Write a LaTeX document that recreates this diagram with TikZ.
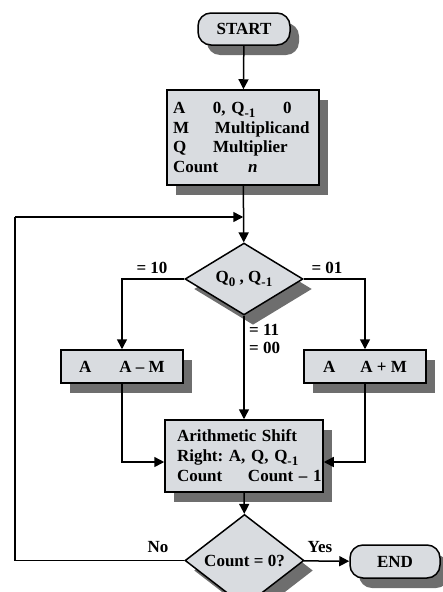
\documentclass[tikz,border=0pt]{standalone}
\usepackage{fontspec}
\setmainfont{Liberation Serif}
\frenchspacing
\usetikzlibrary{arrows.meta,shapes.geometric,shadows}
\definecolor{boxfill}{HTML}{D9DCE0}
\definecolor{shadowgray}{HTML}{6E6E6E}
\newcommand\lowsub[1]{\raisebox{-4pt}{\fontsize{13}{13}\selectfont #1}}
\tikzset{
  x=1pt, y=-1pt,
  base/.style={font=\fontsize{17}{19.5}\selectfont\bfseries, line width=1.5pt, draw=black, fill=boxfill,
    drop shadow={shadow xshift=9pt, shadow yshift=-10pt, fill=shadowgray, opacity=1}},
  terminal/.style={base, rectangle, rounded corners=13pt, minimum width=92pt, minimum height=32pt, inner sep=0pt},
  procbox/.style={base, rectangle, inner sep=0pt},
  decision/.style={base, diamond, inner sep=0pt, minimum width=118pt, minimum height=51pt},
  lbl/.style={font=\fontsize{17}{19.5}\selectfont\bfseries, inner sep=0pt},
  conn/.style={line width=1.5pt, -{Triangle[length=10pt,width=10pt]}},
  plain/.style={line width=1.5pt}
}
\begin{document}
\begin{tikzpicture}
\useasboundingbox (0,0) rectangle (442,592);
\node[terminal] (start) at (244,29) {START};
\node[procbox, minimum width=152pt, minimum height=95pt, text width=140pt, inner xsep=6pt, align=left] (init) at (243,137.5)
  {\makebox[140pt][l]{\makebox[40pt][l]{A}\makebox[70pt][l]{0, Q\lowsub{-1}}0}\\
   \makebox[140pt][l]{\makebox[42pt][l]{M}Multiplicand}\\
   \makebox[140pt][l]{\makebox[40pt][l]{Q}Multiplier}\\
   \makebox[140pt][l]{\makebox[75pt][l]{Count}\textit{n}}};
\coordinate (j) at (244,217);
\node[decision] (q) at (244,279) {Q\lowsub{0} , Q\lowsub{-1}};
\node[procbox, minimum width=122pt, minimum height=33pt] (sub) at (122,366.5) {A\hspace{28pt}A – M};
\node[procbox, minimum width=122pt, minimum height=33pt] (add) at (365,366.5) {A\hspace{25pt}A + M};
\node[procbox, minimum width=158pt, minimum height=72pt, text width=134pt, inner xsep=12pt, align=left,
  font=\fontsize{17}{20}\selectfont\bfseries] (shift) at (244,456)
  {\makebox[134pt][l]{Arithmetic Shift}\\
   \makebox[134pt][l]{Right: A, Q, Q\lowsub{-1}}\\
   \makebox[134pt][l]{\makebox[71pt][l]{Count}Count – 1}};
\node[decision, minimum width=119pt] (c) at (244.5,560.5) {Count = 0?};
\node[terminal, minimum width=90pt, minimum height=33pt] (end) at (395,561.5) {END};
\coordinate (loopb) at (15,560.5);
\coordinate (loopt) at (15,217);

\node[lbl] (l10) at (152,268) {= 10};
\node[lbl] (l01) at (327,268) {= 01};
\node[lbl, anchor=west, align=left] (l11) at (249,339) {= 11\\[-1pt]= 00};
\node[lbl] (lno) at (158,547) {No};
\node[lbl] (lyes) at (320,547) {Yes};

\draw[conn] (start) -- (init);
\draw[conn] (init) -- (q);
\draw[conn] (q.west) -| (sub);
\draw[conn] (q.east) -| (add);
\draw[conn] (q) -- (shift);
\draw[conn] (sub) |- (shift.west |- 0,462);
\draw[conn] (add) |- (shift.east |- 0,462);
\draw[conn] (shift) -- (c);
\draw[conn] (c) -- (end);
\draw[plain] (c.west) -- (loopb) -- (loopt);
\draw[conn] (loopt) -- ([xshift=-0.75pt]j);
\end{tikzpicture}
\end{document}
